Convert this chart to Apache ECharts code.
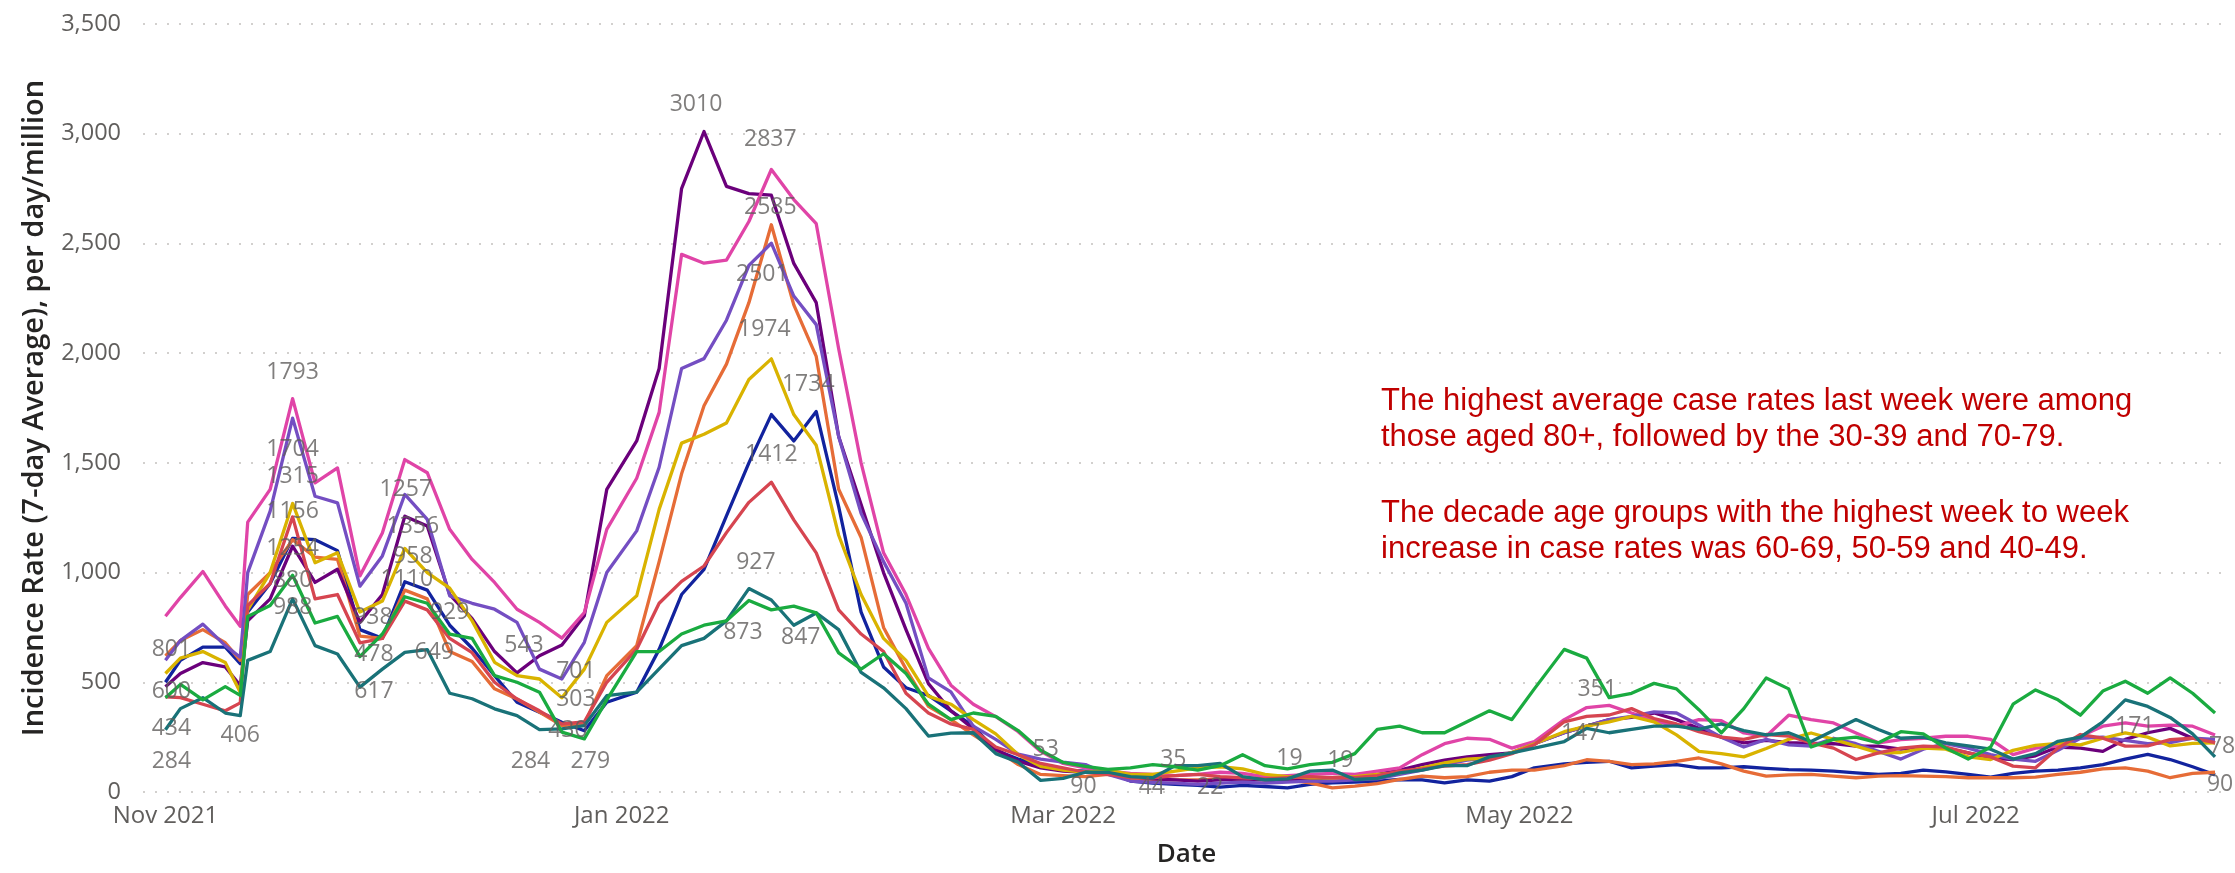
<!DOCTYPE html>
<html>
<head>
<meta charset="utf-8">
<title>Incidence rate by age group</title>
<script src="https://cdn.jsdelivr.net/npm/echarts@6.0.0/dist/echarts.min.js"></script>
<style>
  html, body { margin: 0; padding: 0; background: #fff; }
  #chart { width: 2235px; height: 873px; }
</style>
</head>
<body>
<div id="chart"></div>
<script>
// dates of the sampled points (7-day average, per day per million)
const dates = [
  '2021-11-01','2021-11-03','2021-11-06','2021-11-09','2021-11-11','2021-11-12','2021-11-15','2021-11-18','2021-11-21','2021-11-24',
  '2021-11-27','2021-11-30','2021-12-03','2021-12-06','2021-12-09','2021-12-12','2021-12-15','2021-12-18','2021-12-21','2021-12-24',
  '2021-12-27','2021-12-30','2022-01-03','2022-01-06','2022-01-09','2022-01-12','2022-01-15','2022-01-18','2022-01-21','2022-01-24',
  '2022-01-27','2022-01-30','2022-02-02','2022-02-05','2022-02-08','2022-02-11','2022-02-14','2022-02-17','2022-02-20','2022-02-23',
  '2022-02-26','2022-03-01','2022-03-04','2022-03-07','2022-03-10','2022-03-13','2022-03-16','2022-03-19','2022-03-22','2022-03-25',
  '2022-03-28','2022-03-31','2022-04-03','2022-04-06','2022-04-09','2022-04-12','2022-04-15','2022-04-18','2022-04-21','2022-04-24',
  '2022-04-27','2022-04-30','2022-05-03','2022-05-07','2022-05-10','2022-05-13','2022-05-16','2022-05-19','2022-05-22','2022-05-25',
  '2022-05-28','2022-05-31','2022-06-03','2022-06-06','2022-06-09','2022-06-12','2022-06-15','2022-06-18','2022-06-21','2022-06-24',
  '2022-06-27','2022-06-30','2022-07-03','2022-07-06','2022-07-09','2022-07-12','2022-07-15','2022-07-18','2022-07-21','2022-07-24',
  '2022-07-27','2022-07-30','2022-08-02'
];

const rate0_9 = [
  500, 600, 660, 660, 585, 820, 950, 1156, 1150, 1100,
  740, 700, 958, 920, 760, 655, 530, 409, 364, 318,
  279, 409, 455, 650, 900, 1015, 1258, 1500, 1720, 1600,
  1734, 1300, 820, 570, 475, 440, 370, 300, 190, 150,
  125, 100, 95, 90, 50, 40, 35, 30, 22, 30,
  25, 19, 35, 42, 45, 50, 57, 55, 42, 55,
  50, 70, 110, 128, 135, 140, 110, 118, 125, 110,
  110, 115, 108, 102, 100, 95, 87, 80, 85, 100,
  92, 80, 68, 85, 95, 100, 110, 125, 150, 171,
  148, 115, 78
];
const rate10_19 = [
  620, 690, 740, 680, 600, 900, 1000, 1150, 1070, 1060,
  710, 700, 920, 880, 640, 595, 470, 424, 364, 303,
  310, 530, 667, 1050, 1450, 1760, 1950, 2230, 2585, 2220,
  1985, 1380, 1160, 750, 560, 390, 330, 260, 195, 125,
  80, 75, 70, 80, 60, 57, 55, 55, 60, 55,
  57, 55, 42, 19, 27, 38, 57, 72, 65, 70,
  90, 100, 100, 120, 147, 140, 125, 128, 140, 155,
  128, 95, 72, 78, 80, 72, 65, 72, 75, 72,
  70, 65, 65, 65, 68, 80, 90, 105, 110, 95,
  65, 85, 90
];
const rate20_29 = [
  480, 540, 590, 570, 485, 780, 880, 1120, 955, 1015,
  773, 900, 1257, 1212, 900, 790, 640, 543, 621, 670,
  803, 1379, 1600, 1930, 2750, 3010, 2760, 2727, 2720, 2409,
  2230, 1620, 1310, 1000, 740, 494, 370, 287, 195, 140,
  110, 95, 90, 90, 70, 60, 55, 50, 55, 60,
  55, 50, 60, 65, 70, 80, 100, 125, 145, 160,
  170, 178, 220, 270, 300, 330, 340, 360, 330, 290,
  250, 224, 235, 225, 222, 220, 209, 209, 195, 205,
  200, 178, 155, 148, 165, 205, 200, 185, 240, 270,
  290, 245, 224
];
const rate30_39 = [
  801, 886, 1005, 848, 755, 1230, 1379, 1793, 1409, 1477,
  985, 1180, 1515, 1455, 1197, 1060, 955, 833, 773, 701,
  818, 1197, 1430, 1730, 2450, 2410, 2424, 2600, 2837, 2700,
  2590, 2020, 1500, 1090, 900, 655, 487, 400, 343, 275,
  185, 130, 110, 95, 85, 80, 75, 80, 90, 85,
  70, 75, 80, 85, 80, 95, 110, 170, 220, 245,
  240, 200, 230, 330, 385, 395, 360, 325, 300, 330,
  325, 269, 254, 350, 330, 315, 269, 224, 239, 245,
  254, 254, 240, 170, 200, 209, 254, 300, 315, 300,
  305, 300, 260
];
const rate40_49 = [
  600, 690, 765, 667, 614, 1000, 1280, 1704, 1348, 1318,
  938, 1076, 1356, 1242, 894, 860, 833, 773, 560, 515,
  682, 1000, 1190, 1480, 1930, 1975, 2150, 2400, 2501, 2260,
  2130, 1620, 1270, 1050, 860, 520, 456, 300, 240, 173,
  150, 136, 125, 80, 50, 44, 40, 35, 40, 45,
  40, 45, 50, 50, 55, 60, 80, 100, 125, 145,
  155, 180, 220, 270, 300, 330, 345, 365, 360, 305,
  250, 205, 240, 215, 209, 245, 220, 185, 150, 195,
  220, 200, 170, 150, 140, 190, 245, 250, 235, 220,
  225, 245, 240
];
const rate50_59 = [
  540, 610, 640, 590, 455, 830, 1000, 1315, 1045, 1090,
  820, 870, 1110, 1000, 929, 780, 591, 530, 515, 430,
  560, 773, 894, 1288, 1590, 1630, 1682, 1880, 1974, 1720,
  1580, 1170, 900, 700, 600, 437, 400, 330, 265, 170,
  117, 100, 90, 100, 80, 80, 95, 110, 115, 105,
  80, 70, 65, 65, 70, 80, 87, 110, 133, 150,
  155, 180, 220, 275, 300, 320, 345, 320, 260, 185,
  175, 160, 198, 240, 269, 240, 209, 178, 180, 200,
  195, 160, 148, 190, 212, 222, 215, 245, 269, 250,
  210, 222, 224
];
const rate60_69 = [
  434, 430, 400, 370, 406, 850, 950, 1254, 880, 900,
  680, 700, 870, 830, 700, 635, 500, 424, 370, 310,
  320, 500, 651, 860, 960, 1030, 1182, 1320, 1412, 1240,
  1090, 830, 720, 640, 450, 360, 310, 285, 205, 170,
  130, 110, 90, 80, 65, 65, 75, 80, 70, 65,
  60, 65, 70, 65, 65, 75, 95, 105, 118, 125,
  145, 175, 215, 320, 345, 351, 380, 335, 310, 275,
  250, 240, 262, 255, 224, 200, 148, 178, 200, 209,
  205, 178, 160, 118, 110, 200, 262, 245, 209, 210,
  239, 245, 225
];
const rate70_79 = [
  284, 380, 430, 360, 348, 600, 640, 880, 667, 629,
  478, 560, 636, 649, 450, 425, 379, 348, 284, 288,
  303, 439, 455, 561, 667, 700, 780, 927, 875, 760,
  816, 740, 545, 475, 380, 255, 268, 270, 175, 136,
  53, 62, 90, 90, 70, 65, 120, 120, 130, 70,
  55, 60, 95, 100, 57, 62, 87, 100, 120, 120,
  160, 178, 200, 230, 290, 270, 285, 300, 300, 285,
  310, 280, 260, 270, 230, 280, 330, 285, 245, 250,
  224, 210, 195, 150, 175, 231, 250, 320, 420, 390,
  340, 265, 160
];
const rate80plus = [
  430, 490, 420, 480, 440, 800, 850, 988, 770, 800,
  617, 720, 890, 860, 720, 700, 530, 500, 455, 273,
  242, 420, 640, 640, 720, 760, 780, 873, 830, 847,
  816, 634, 560, 630, 540, 400, 330, 360, 345, 280,
  190, 135, 117, 103, 110, 125, 115, 100, 120, 170,
  120, 105, 125, 135, 175, 285, 300, 270, 270, 320,
  370, 330, 470, 650, 610, 430, 450, 495, 470, 375,
  270, 380, 520, 470, 205, 240, 250, 224, 275, 265,
  200, 150, 205, 400, 465, 420, 350, 460, 505, 450,
  520, 450, 360
];

const ageGroups = ['0-9', '10-19', '20-29', '30-39', '40-49', '50-59', '60-69', '70-79', '80+'];
const rates = [rate0_9, rate10_19, rate20_29, rate30_39, rate40_49, rate50_59, rate60_69, rate70_79, rate80plus];

const xTickDates = ['2021-11-01', '2022-01-01', '2022-03-01', '2022-05-01', '2022-07-01'];
const xTickLabels = ['Nov 2021', 'Jan 2022', 'Mar 2022', 'May 2022', 'Jul 2022'];

// which points carry a data label: [age group, point index]
const labelledPoints = [
  ['30-39', 0], ['40-49', 0], ['60-69', 0], ['70-79', 0], ['60-69', 4],
  ['30-39', 7], ['40-49', 7], ['50-59', 7], ['0-9', 7], ['60-69', 7], ['70-79', 7], ['80+', 7],
  ['40-49', 10], ['70-79', 10], ['80+', 10],
  ['20-29', 12], ['40-49', 12], ['0-9', 12], ['50-59', 12], ['70-79', 13], ['50-59', 14],
  ['20-29', 17], ['30-39', 19], ['10-19', 19], ['50-59', 19], ['70-79', 18], ['0-9', 20],
  ['20-29', 25], ['30-39', 28], ['10-19', 28], ['40-49', 28], ['50-59', 28], ['0-9', 30],
  ['60-69', 28], ['70-79', 27], ['80+', 27], ['80+', 29],
  ['70-79', 40], ['70-79', 42], ['0-9', 46], ['40-49', 45], ['0-9', 48], ['0-9', 51], ['10-19', 53],
  ['60-69', 65], ['10-19', 64], ['0-9', 89], ['0-9', 92], ['10-19', 92]
];
// label placement (pixels from the point), same order as labelledPoints
const labelOffsets = [
  [6, 33], [6, 31], [6, 32], [6, 32], [0, 33],
  [0, -26], [0, 31], [0, -27], [0, -27], [0, 32], [0, -18], [0, 32],
  [13, 31], [14, -33], [14, 35],
  [1, -27], [8, 32], [8, -25], [2, 31], [7, 3], [0, 24],
  [7, -27], [14, 33], [14, -26], [6, 33], [-9, 32], [6, 31],
  [-8, -27], [-1, -30], [-1, -17], [-9, 31], [-7, -29], [-8, -27],
  [0, -28], [7, -26], [-6, 32], [7, 31],
  [5, -31], [-2, 14], [-2, -25], [-1, 5], [-10, 0], [2, -29], [8, -27],
  [-12, -26], [-6, -26], [-13, -28], [7, -28], [5, 12]
];

const colors = ['#12239E', '#E66C37', '#6B007B', '#E044A7', '#744EC2', '#D9B300', '#D64550', '#197278', '#1AAB40'];
const font = '"Open Sans", "Noto Sans", sans-serif';
const noteFont = '31px "Liberation Sans", Arial, sans-serif';

function toTime(s) {
  const [y, m, d] = s.split('-').map(Number);
  return new Date(y, m - 1, d).getTime();
}

const times = dates.map(toTime);
const xTickTimes = xTickDates.map(toTime);

const lineSeries = ageGroups.map((name, i) => ({
  name: name,
  type: 'line',
  showSymbol: false,
  symbol: 'none',
  lineStyle: { width: 3.3, color: colors[i], join: 'round' },
  itemStyle: { color: colors[i] },
  data: rates[i].map((v, k) => [times[k], v]),
  silent: true,
  z: 2
}));

const labelSeries = {
  type: 'scatter',
  symbolSize: 0,
  silent: true,
  z: 5,
  data: labelledPoints.map(([group, idx], n) => {
    const v = rates[ageGroups.indexOf(group)][idx];
    return {
      value: [times[idx], v],
      label: { offset: labelOffsets[n] }
    };
  }),
  label: {
    show: true,
    position: 'inside',
    formatter: p => String(p.value[1]),
    color: '#605E5C',
    fontFamily: font,
    fontSize: 23
  }
};

const chart = echarts.init(document.getElementById('chart'));
chart.setOption({
  animation: false,
  backgroundColor: '#ffffff',
  textStyle: { fontFamily: font },
  grid: { left: 143, right: 5, top: 24, bottom: 80, containLabel: false },
  xAxis: {
    type: 'value',
    min: toTime('2021-10-29'),
    max: toTime('2022-08-04'),
    name: 'Date',
    nameLocation: 'middle',
    nameGap: 50,
    nameTextStyle: { fontFamily: font, fontSize: 26, fontWeight: 600, color: '#252423' },
    axisLine: { show: false },
    axisTick: { show: false },
    splitLine: { show: false },
    axisLabel: {
      customValues: xTickTimes,
      formatter: v => {
        const i = xTickTimes.indexOf(v);
        return i >= 0 ? xTickLabels[i] : '';
      },
      hideOverlap: false,
      margin: 12,
      fontSize: 24,
      color: '#605E5C',
      fontFamily: font
    }
  },
  yAxis: {
    type: 'value',
    min: 0,
    max: 3500,
    interval: 500,
    name: 'Incidence Rate (7-day Average), per day/million',
    nameLocation: 'middle',
    nameRotate: 90,
    nameGap: 94,
    nameTextStyle: { fontFamily: font, fontSize: 29, fontWeight: 600, color: '#252423' },
    axisLine: { show: false },
    axisTick: { show: false },
    axisLabel: {
      margin: 22,
      fontSize: 23.5,
      color: '#605E5C',
      fontFamily: font,
      formatter: v => v.toLocaleString('en-US')
    },
    splitLine: {
      show: true,
      lineStyle: { type: [2, 10], width: 2, color: '#D2D0CE' }
    }
  },
  graphic: [
    {
      type: 'text',
      left: 1381,
      top: 383,
      silent: true,
      style: {
        text: 'The highest average case rates last week were among\nthose aged 80+, followed by the 30-39 and 70-79.',
        font: noteFont,
        lineHeight: 36,
        fill: '#C00000'
      }
    },
    {
      type: 'text',
      left: 1381,
      top: 495,
      silent: true,
      style: {
        text: 'The decade age groups with the highest week to week\nincrease in case rates was 60-69, 50-59 and 40-49.',
        font: noteFont,
        lineHeight: 36,
        fill: '#C00000'
      }
    }
  ],
  series: lineSeries.concat([labelSeries])
});
</script>
</body>
</html>
